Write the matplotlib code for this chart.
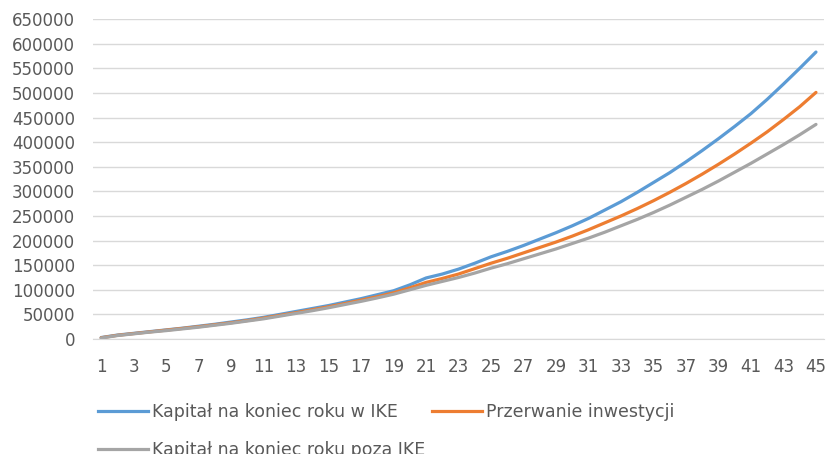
import numpy as np
import matplotlib
matplotlib.use("Agg")
import matplotlib.pyplot as plt
from matplotlib.lines import Line2D

# years 1..45
years = list(range(1, 46))

# capital at end of year inside IKE
ike = [3000, 8000, 11500, 15000, 18500, 22000, 26000, 30000, 34500, 39000,
       44000, 50000, 56000, 62000, 68000, 75000, 82000, 90000, 98000, 110000,
       124000, 132000, 142000, 154000, 167000, 178000, 190000, 203000, 216000, 230000,
       245000, 262000, 279000, 298000, 318000, 338000, 360000, 383000, 407000, 432000,
       458000, 487000, 518000, 550000, 583000]

# interrupted investment
przerwanie = [2500, 7500, 11000, 14500, 18000, 21500, 25000, 29000, 33000, 37500,
              42500, 48000, 53500, 59500, 65500, 72000, 79000, 86000, 94000, 104000,
              115000, 123000, 132000, 143000, 154000, 164000, 175000, 186000, 197000, 209000,
              222000, 236000, 250000, 265000, 281000, 298000, 316000, 335000, 355000, 376000,
              398000, 421000, 446000, 472000, 501000]

# capital outside IKE
poza = [2000, 7000, 10500, 14000, 17000, 20500, 24000, 28000, 32000, 36500,
        41000, 46500, 52000, 57500, 63500, 70000, 76500, 83500, 91000, 100000,
        109000, 117000, 125000, 134000, 144000, 153000, 163000, 173000, 183000, 194000,
        205000, 217000, 230000, 243000, 257000, 272000, 288000, 304000, 321000, 339000,
        357000, 376000, 395000, 415000, 436000]

labels = ["Kapitał na koniec roku w IKE", "Przerwanie inwestycji",
          "Kapitał na koniec roku poza IKE"]
colors = ["#5B9BD5", "#ED7D31", "#A5A5A5"]
yticks = list(range(0, 650001, 50000))

fig = plt.figure(figsize=(8.27, 4.54), dpi=100)
ax = fig.add_axes([0.1125, 0.2533, 0.884, 0.7047])

for vals, c in zip([ike, przerwanie, poza], colors):
    ax.plot(years, vals, color=c, lw=2.3, solid_capstyle="round")

ax.set_xlim(0.5, 45.5)
ax.set_ylim(0, 650000)
ax.set_yticks(yticks)
ax.set_yticklabels([str(v) for v in yticks])
ax.set_xticks(years[::2])
ax.set_xticklabels([str(v) for v in years[::2]])
ax.yaxis.grid(True, color="#D9D9D9", lw=1)
ax.set_axisbelow(True)
for s in ["top", "right", "left"]:
    ax.spines[s].set_visible(False)
ax.spines["bottom"].set_color("#D9D9D9")
ax.tick_params(axis="y", length=0, pad=13, labelsize=12, labelcolor="#595959")
ax.tick_params(axis="x", length=0, pad=14, labelsize=12, labelcolor="#595959")

handles = [Line2D([], [], color=c, lw=2.3) for c in colors]
# order so entries go row-wise like Excel
order = [0, 2, 1]
fig.legend([handles[i] for i in order], [labels[i] for i in order],
           ncol=2, loc="upper left", bbox_to_anchor=(0.1185, 0.113),
           frameon=False, fontsize=12.5, handlelength=2.9, handletextpad=0.2,
           columnspacing=0.4, labelspacing=1.15, labelcolor="#595959",
           borderaxespad=0, borderpad=0)

fig.savefig("out.png", dpi=100)
